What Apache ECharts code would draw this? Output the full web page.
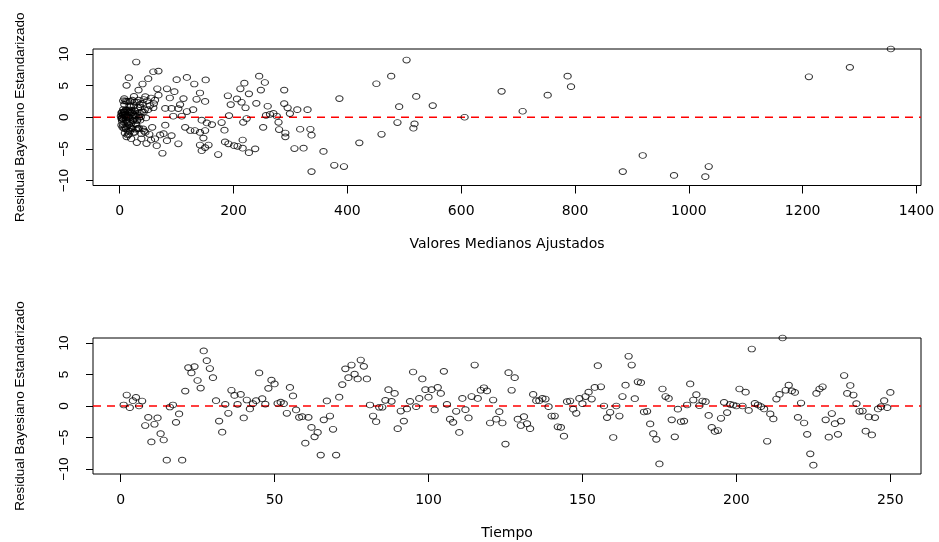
<!DOCTYPE html>
<html><head><meta charset="utf-8">
<script src="https://cdn.jsdelivr.net/npm/echarts@6/dist/echarts.min.js"></script>
<style>html,body{margin:0;padding:0;background:#fff}#c{width:939px;height:542px}</style>
</head><body><div id="c"></div>
<script>
// Standardized Bayesian residuals, in time order (t = 1..250)
const residual = [
0.16, 1.74, -0.26, 0.84, 1.37, 0, 0.79, -3.1, -1.8, -5.7,
-2.9, -1.9, -4.4, -5.4, -8.6, -0.16, 0.16, -2.6, -1.26, -8.6,
2.37, 6.1, 5.26, 6.26, 4.05, 2.84, 8.74, 7.2, 5.95, 4.5,
0.84, -2.4, -4.16, 0.26, -1.16, 2.5, 1.68, 0.26, 1.84, -1.9,
0.95, -0.47, 0.37, 0.84, 5.26, 1.16, 0.3, 2.8, 4.1, 3.5,
0.4, 0.6, 0.37, -1.16, 2.95, 1.6, -0.63, -1.8, -1.7, -5.9,
-1.8, -3.4, -4.9, -4.2, -7.8, -2.2, 0.8, -1.6, -3.7, -7.8,
1.4, 3.4, 5.9, 4.5, 6.5, 5.05, 4.3, 7.3, 6.3, 4.3,
0.16, -1.6, -2.5, -0.2, -0.2, 0.9, 2.6, 0.74, 2.0, -3.6,
-0.8, -2.4, -0.47, 0.74, 5.4, -0.1, 1.2, 4.3, 2.6, 1.4,
2.6, -0.63, 2.95, 2.0, 5.5, 0.26, -2.1, -2.6, -0.84, -4.2,
1.2, -0.58, -1.9, 1.5, 6.5, 1.2, 2.5, 2.9, 2.4, -2.7,
0.95, -2.1, -0.9, -2.7, -6.05, 5.3, 2.5, 4.5, -2.1, -3.1,
-1.7, -2.8, -3.6, 1.84, 0.84, 0.84, 1.2, 1.1, -0.1, -1.6,
-1.6, -3.3, -3.4, -4.8, 0.68, 0.79, -0.5, -1.16, 1.2, 0.37,
1.5, 2.2, 1.1, 2.95, 6.4, 3.05, 0, -1.84, -1.0, -5.0,
0, -1.6, 1.5, 3.3, 7.9, 6.5, 1.16, 3.84, 3.7, -0.95,
-0.84, -2.84, -4.4, -5.3, -9.2, 2.7, 1.5, 1.2, -2.2, -4.9,
-0.5, -2.5, -2.4, 0.16, 3.5, 0.95, 1.8, 0.05, 0.79, 0.68,
-1.5, -3.4, -4.05, -3.9, -1.95, 0.58, -1.05, 0.26, 0.16, 0,
2.7, 0, 2.2, -0.7, 9.05, 0.42, 0.16, -0.1, -0.47, -5.6,
-1.26, -2.05, 1.1, 1.84, 10.8, 2.5, 3.3, 2.4, 2.16, -1.8,
0.47, -2.7, -4.5, -7.6, -9.4, 2.0, 2.7, 3.05, -2.2, -4.95,
-1.2, -2.8, -4.5, -2.4, 4.84, 2.0, 3.26, 1.74, 0.37, -0.84,
-0.8, -4.0, -1.74, -4.6, -1.84, -0.47, -0.1, 0.84, -0.26, 2.16
];

// Fitted median values, same order
const fitted = [
94, 260, 6, 14, 103, 606, 9, 12, 22, 75,
91, 335, 141, 358, 884, 4, 109, 77, 80, 337,
214, 50, 131, 16, 96, 135, 29, 59, 100, 66,
18, 141, 47, 192, 162, 150, 491, 27, 550, 317,
708, 11, 33, 7, 40, 16, 257, 42, 671, 68,
24, 270, 5, 29, 112, 36, 13, 8, 19, 173,
31, 20, 323, 103, 1035, 15, 42, 115, 83, 394,
80, 190, 151, 83, 477, 12, 33, 68, 118, 289,
276, 252, 291, 223, 3, 118, 10, 21, 106, 55,
217, 26, 144, 35, 219, 17, 129, 248, 48, 91,
6, 23, 386, 195, 255, 12, 124, 38, 179, 191,
312, 4, 28, 221, 787, 44, 15, 206, 30, 460,
9, 132, 153, 52, 919, 451, 19, 212, 150, 291,
34, 71, 216, 25, 7, 39, 330, 13, 46, 10,
57, 147, 38, 150, 3, 22, 30, 16, 50, 8,
295, 240, 26, 8, 1211, 55, 12, 41, 20, 238,
34, 5, 59, 25, 1283, 245, 11, 141, 227, 28,
14, 337, 156, 144, 974, 62, 32, 6, 18, 216,
23, 9, 45, 2, 752, 27, 17, 37, 4, 21,
13, 62, 421, 185, 280, 299, 518, 10, 24, 15,
33, 7, 40, 18, 504, 5, 29, 11, 36, 227,
3, 184, 20, 53, 1355, 12, 521, 26, 289, 32,
264, 16, 65, 377, 1029, 8, 22, 88, 43, 307,
6, 14, 201, 24, 793, 35, 45, 19, 9, 488,
279, 30, 516, 207, 11, 31, 4, 17, 26, 60
];

// Tick labels: [first, last, step]
const fittedTicks = [0, 1400, 200];
const timeTicks = [0, 250, 50];
const residTicks = [-10, 10, 5];

const xTitleTop = 'Valores Medianos Ajustados';
const xTitleBottom = 'Tiempo';
const yTitle = 'Residual Bayesiano Estandarizado';

// plot-region ranges (R style 4% extension)
const topXRange = [-47, 1408];
const botXRange = [-8.96, 259.96];
const yRange = [-10.8, 10.8];

const W = 939;
const panels = [
  {left: 93, right: 18, top: 49, height: 136.5},
  {left: 93, right: 18, top: 338, height: 136}
];

const chart = echarts.init(document.getElementById('c'), null, {renderer: 'canvas'});

const minus = v => String(v).replace('-', '\u2212');
const hFont = () => ({fontFamily: 'DejaVu Sans', fontSize: 14, color: '#000'});
const vFont = () => ({fontFamily: 'Liberation Sans', fontSize: 13.5, color: '#000'});

// grid whose extent equals the tick span, so axis ticks fall exactly on the tick values
function tickGrid(g, xr, xt, yr, yt) {
  const w = W - g.left - g.right;
  const left = g.left + w * (xt[0] - xr[0]) / (xr[1] - xr[0]);
  const width = w * (xt[1] - xt[0]) / (xr[1] - xr[0]);
  const top = g.top + g.height * (yr[1] - yt[1]) / (yr[1] - yr[0]);
  const height = g.height * (yt[1] - yt[0]) / (yr[1] - yr[0]);
  return {grid: {left, top, width, height, show: false},
          offX: (g.top + g.height) - (top + height), offY: left - g.left};
}
const tg0 = tickGrid(panels[0], topXRange, fittedTicks, yRange, residTicks);
const tg1 = tickGrid(panels[1], botXRange, timeTicks, yRange, residTicks);

const grids = [
  Object.assign({show: true, borderColor: '#000', borderWidth: 1, backgroundColor: 'transparent'}, panels[0]),
  Object.assign({show: true, borderColor: '#000', borderWidth: 1, backgroundColor: 'transparent'}, panels[1]),
  tg0.grid, tg1.grid
];

function mainX(idx, r, title) {
  return {type: 'value', gridIndex: idx, min: r[0], max: r[1],
    axisLine: {show: false}, axisTick: {show: false}, axisLabel: {show: false}, splitLine: {show: false},
    name: title, nameLocation: 'middle', nameGap: 52, nameTextStyle: hFont()};
}
function mainY(idx) {
  return {type: 'value', gridIndex: idx, min: yRange[0], max: yRange[1],
    axisLine: {show: false}, axisTick: {show: false}, axisLabel: {show: false}, splitLine: {show: false},
    name: yTitle, nameLocation: 'middle', nameRotate: 90, nameGap: 66, nameTextStyle: vFont()};
}
function tickX(idx, t, off) {
  return {type: 'value', gridIndex: idx, min: t[0], max: t[1], interval: t[2], offset: off,
    axisLine: {show: false, onZero: false}, splitLine: {show: false},
    axisTick: {show: true, length: 8, lineStyle: {color: '#000', width: 1}},
    axisLabel: Object.assign({margin: 19, formatter: minus, showMinLabel: true, showMaxLabel: true}, hFont())};
}
function tickY(idx, t, off) {
  return {type: 'value', gridIndex: idx, min: t[0], max: t[1], interval: t[2], offset: off,
    axisLine: {show: false, onZero: false}, splitLine: {show: false},
    axisTick: {show: true, length: 7, lineStyle: {color: '#000', width: 1}},
    axisLabel: Object.assign({rotate: 90, margin: 22, formatter: minus, showMinLabel: true, showMaxLabel: true}, vFont())};
}

function zeroSeries(xi, yi, r) {
  return {type: 'line', xAxisIndex: xi, yAxisIndex: yi, silent: true,
    symbol: 'none', data: [[r[0], 0], [r[1], 0]],
    lineStyle: {color: '#ff0000', type: [8, 6], width: 1.3, opacity: 1}, z: 1};
}
function pointStyle() {
  return {color: 'rgba(0,0,0,0)', borderColor: '#000', borderWidth: 1};
}

chart.setOption({
  animation: false,
  backgroundColor: '#fff',
  grid: grids,
  xAxis: [
    mainX(0, topXRange, xTitleTop),
    mainX(1, botXRange, xTitleBottom),
    tickX(2, fittedTicks, tg0.offX),
    tickX(3, timeTicks, tg1.offX)
  ],
  yAxis: [
    mainY(0), mainY(1),
    tickY(2, residTicks, tg0.offY),
    tickY(3, residTicks, tg1.offY)
  ],
  series: [
    zeroSeries(0, 0, topXRange),
    zeroSeries(1, 1, botXRange),
    {
      type: 'scatter', xAxisIndex: 0, yAxisIndex: 0, z: 2,
      symbol: 'circle', symbolSize: [7.2, 5.8], itemStyle: pointStyle(),
      data: residual.map((r, i) => [fitted[i], r]), clip: false
    },
    {
      type: 'scatter', xAxisIndex: 1, yAxisIndex: 1, z: 2,
      symbol: 'circle', symbolSize: [7.2, 5.8], itemStyle: pointStyle(),
      data: residual.map((r, i) => [i + 1, r]), clip: false
    }
  ]
});
</script>
</body></html>
